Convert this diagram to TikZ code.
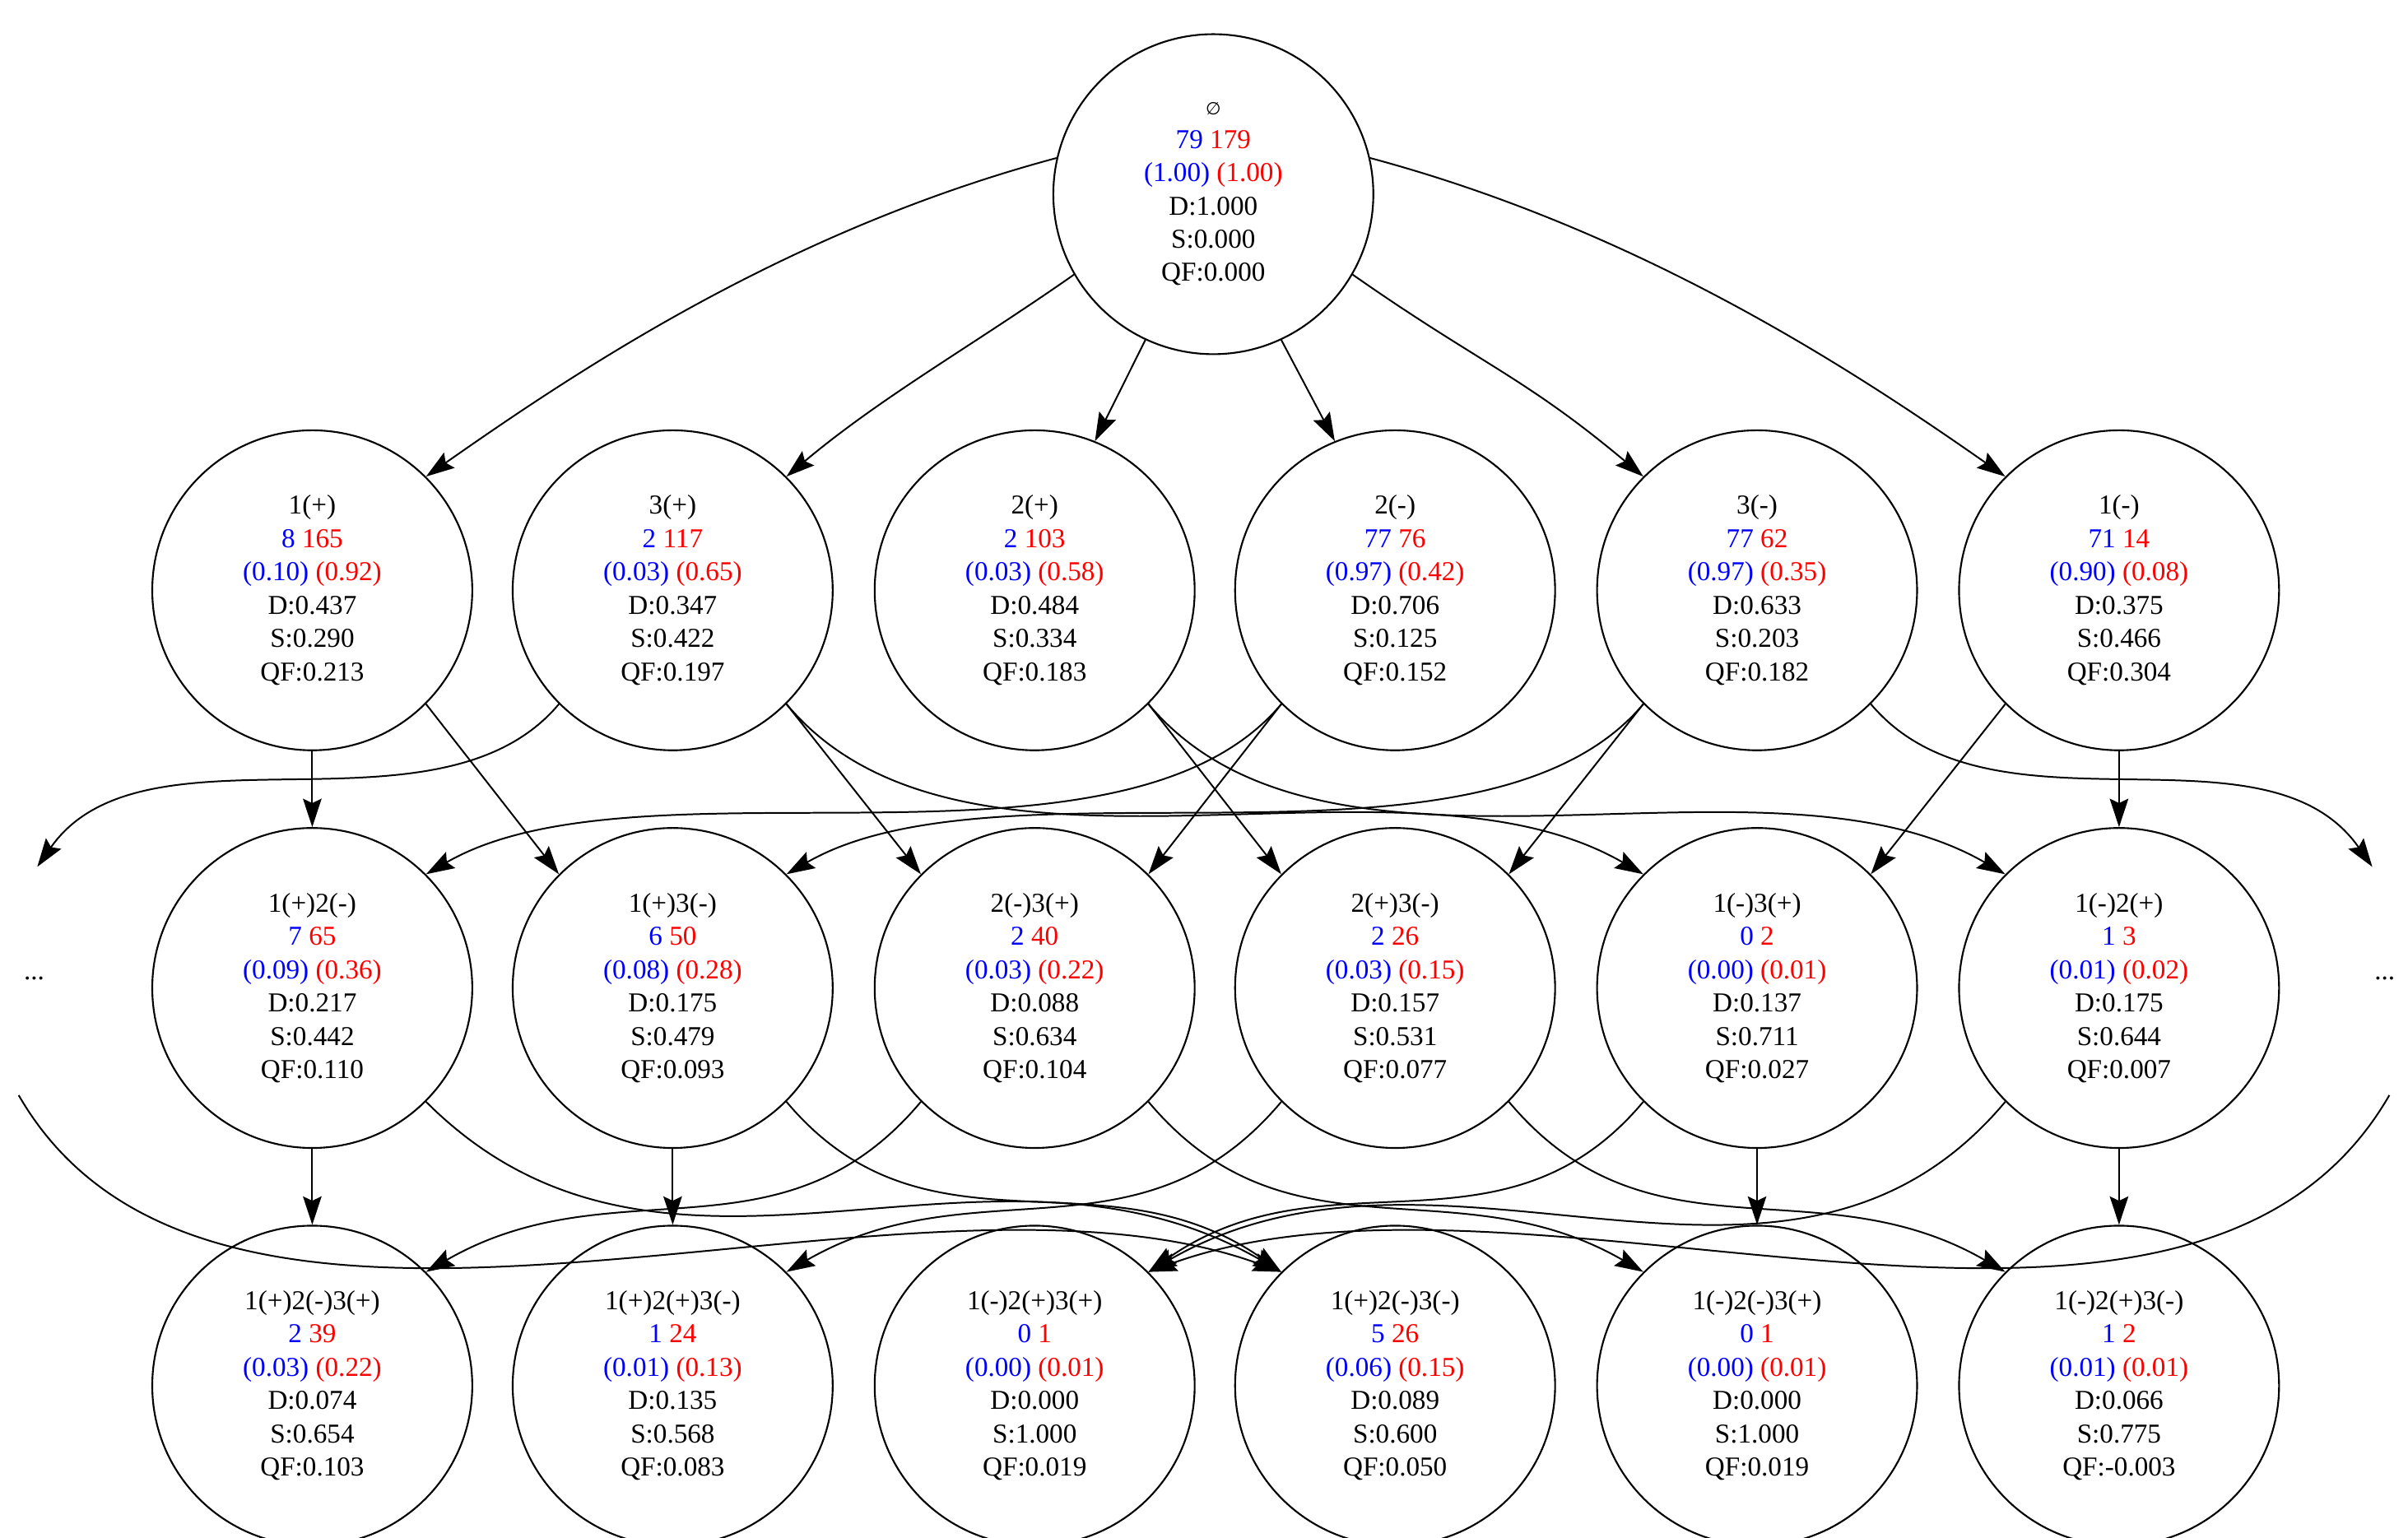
\documentclass[tikz,border=0pt]{standalone}
\usepackage{fontspec}
\setmainfont{Liberation Serif}
\newfontfamily\dvs{DejaVu Sans}
\usetikzlibrary{arrows.meta}
\definecolor{bl}{RGB}{0,0,255}
\definecolor{rd}{RGB}{255,0,0}
\newcommand{\nt}[8]{#1\\\textcolor{bl}{#2} \textcolor{rd}{#3}\\\textcolor{bl}{#4} \textcolor{rd}{#5}\\D:#6\\S:#7\\QF:#8}
\tikzset{
 nd/.style={circle,draw,line width=1.6pt,minimum size=10.3cm,inner sep=0pt,align=center,font=\fontsize{25}{30.5}\selectfont},
 ed/.style={line width=1.5pt,-{Stealth[length=26pt,width=17pt,inset=4pt]}},
 dots/.style={font=\fontsize{25}{30}\selectfont}
}
\begin{document}
\begin{tikzpicture}[x=0.05cm,y=-0.05cm]
\useasboundingbox (0,0) rectangle (1550,990);
\node[nd] (root) at (781,125) {{\dvs\fontsize{16}{30.5}\selectfont ∅}\\\textcolor{bl}{79} \textcolor{rd}{179}\\\textcolor{bl}{(1.00)} \textcolor{rd}{(1.00)}\\D:1.000\\S:0.000\\QF:0.000};
\node[nd] (a) at (201,380) {\nt{1(+)}{8}{165}{(0.10)}{(0.92)}{0.437}{0.290}{0.213}};
\node[nd] (b) at (433,380) {\nt{3(+)}{2}{117}{(0.03)}{(0.65)}{0.347}{0.422}{0.197}};
\node[nd] (c) at (666,380) {\nt{2(+)}{2}{103}{(0.03)}{(0.58)}{0.484}{0.334}{0.183}};
\node[nd] (d) at (898,380) {\nt{2(-)}{77}{76}{(0.97)}{(0.42)}{0.706}{0.125}{0.152}};
\node[nd] (e) at (1131,380) {\nt{3(-)}{77}{62}{(0.97)}{(0.35)}{0.633}{0.203}{0.182}};
\node[nd] (f) at (1364,380) {\nt{1(-)}{71}{14}{(0.90)}{(0.08)}{0.375}{0.466}{0.304}};
\node[nd] (A) at (201,636) {\nt{1(+)2(-)}{7}{65}{(0.09)}{(0.36)}{0.217}{0.442}{0.110}};
\node[nd] (B) at (433,636) {\nt{1(+)3(-)}{6}{50}{(0.08)}{(0.28)}{0.175}{0.479}{0.093}};
\node[nd] (C) at (666,636) {\nt{2(-)3(+)}{2}{40}{(0.03)}{(0.22)}{0.088}{0.634}{0.104}};
\node[nd] (D) at (898,636) {\nt{2(+)3(-)}{2}{26}{(0.03)}{(0.15)}{0.157}{0.531}{0.077}};
\node[nd] (E) at (1131,636) {\nt{1(-)3(+)}{0}{2}{(0.00)}{(0.01)}{0.137}{0.711}{0.027}};
\node[nd] (F) at (1364,636) {\nt{1(-)2(+)}{1}{3}{(0.01)}{(0.02)}{0.175}{0.644}{0.007}};
\node[nd] (P) at (201,892) {\nt{1(+)2(-)3(+)}{2}{39}{(0.03)}{(0.22)}{0.074}{0.654}{0.103}};
\node[nd] (Q) at (433,892) {\nt{1(+)2(+)3(-)}{1}{24}{(0.01)}{(0.13)}{0.135}{0.568}{0.083}};
\node[nd] (R) at (666,892) {\nt{1(-)2(+)3(+)}{0}{1}{(0.00)}{(0.01)}{0.000}{1.000}{0.019}};
\node[nd] (S) at (898,892) {\nt{1(+)2(-)3(-)}{5}{26}{(0.06)}{(0.15)}{0.089}{0.600}{0.050}};
\node[nd] (T) at (1131,892) {\nt{1(-)2(-)3(+)}{0}{1}{(0.00)}{(0.01)}{0.000}{1.000}{0.019}};
\node[nd] (U) at (1364,892) {\nt{1(-)2(+)3(-)}{1}{2}{(0.01)}{(0.01)}{0.066}{0.775}{-0.003}};
\node[dots] (ld) at (22,630) {...};
\node[dots] (rd) at (1535,630) {...};
\coordinate (lt) at (24,558);
\coordinate (rt) at (1527,558);
\coordinate (lw) at (12,705);
\coordinate (rw) at (1538,705);
% root edges
\draw[ed] (root.167) .. controls +(195:9cm) and +(35:6cm) .. (a.45);
\draw[ed] (root.-150) .. controls +(215:4cm) and +(40:4cm) .. (b.45);
\draw[ed] (root.-115) -- (c.68);
\draw[ed] (root.-65) -- (d.112);
\draw[ed] (root.-30) .. controls +(-35:5cm) and +(140:5cm) .. (e.135);
\draw[ed] (root.13) .. controls +(-15:9cm) and +(145:6cm) .. (f.135);
% row1 -> row2
\draw[ed] (a) -- (A);
\draw[ed] (a.-45) -- (B.135);
\draw[ed] (b.-45) -- (C.135);
\draw[ed] (b.-45) .. controls +(-50:9cm) and +(150:9cm) .. (E.135);
\draw[ed] (b.-135) .. controls +(-130:6cm) and +(55:6cm) .. (lt);
\draw[ed] (c.-45) -- (D.135);
\draw[ed] (c.-45) .. controls +(-50:9cm) and +(150:9cm) .. (F.135);
\draw[ed] (d.-135) .. controls +(-130:8cm) and +(30:8cm) .. (A.45);
\draw[ed] (d.-135) -- (C.45);
\draw[ed] (e.-135) .. controls +(-130:8cm) and +(30:8cm) .. (B.45);
\draw[ed] (e.-135) -- (D.45);
\draw[ed] (e.-45) .. controls +(-50:6cm) and +(125:6cm) .. (rt);
\draw[ed] (f.-135) -- (E.45);
\draw[ed] (f) -- (F);
% row2 -> row3
\draw[ed] (A) -- (P);
\draw[ed] (A.-45) .. controls +(-45:11cm) and +(150:11cm) .. (S.135);
\draw[ed] (B) -- (Q);
\draw[ed] (B.-45) .. controls +(-50:7cm) and +(145:7cm) .. (S.135);
\draw[ed] (C.-135) .. controls +(-130:7cm) and +(30:7cm) .. (P.45);
\draw[ed] (C.-45) .. controls +(-50:7cm) and +(150:7cm) .. (T.135);
\draw[ed] (D.-135) .. controls +(-130:7cm) and +(30:7cm) .. (Q.45);
\draw[ed] (D.-45) .. controls +(-50:7cm) and +(150:7cm) .. (U.135);
\draw[ed] (E.-135) .. controls +(-130:7cm) and +(35:7cm) .. (R.45);
\draw[ed] (E) -- (T);
\draw[ed] (F.-135) .. controls +(-130:11cm) and +(30:11cm) .. (R.45);
\draw[ed] (F) -- (U);
\draw[ed] (lw) .. controls +(-60:13cm) and +(160:13cm) .. (S.135);
\draw[ed] (rw) .. controls +(-120:13cm) and +(20:13cm) .. (R.45);
\end{tikzpicture}
\end{document}
